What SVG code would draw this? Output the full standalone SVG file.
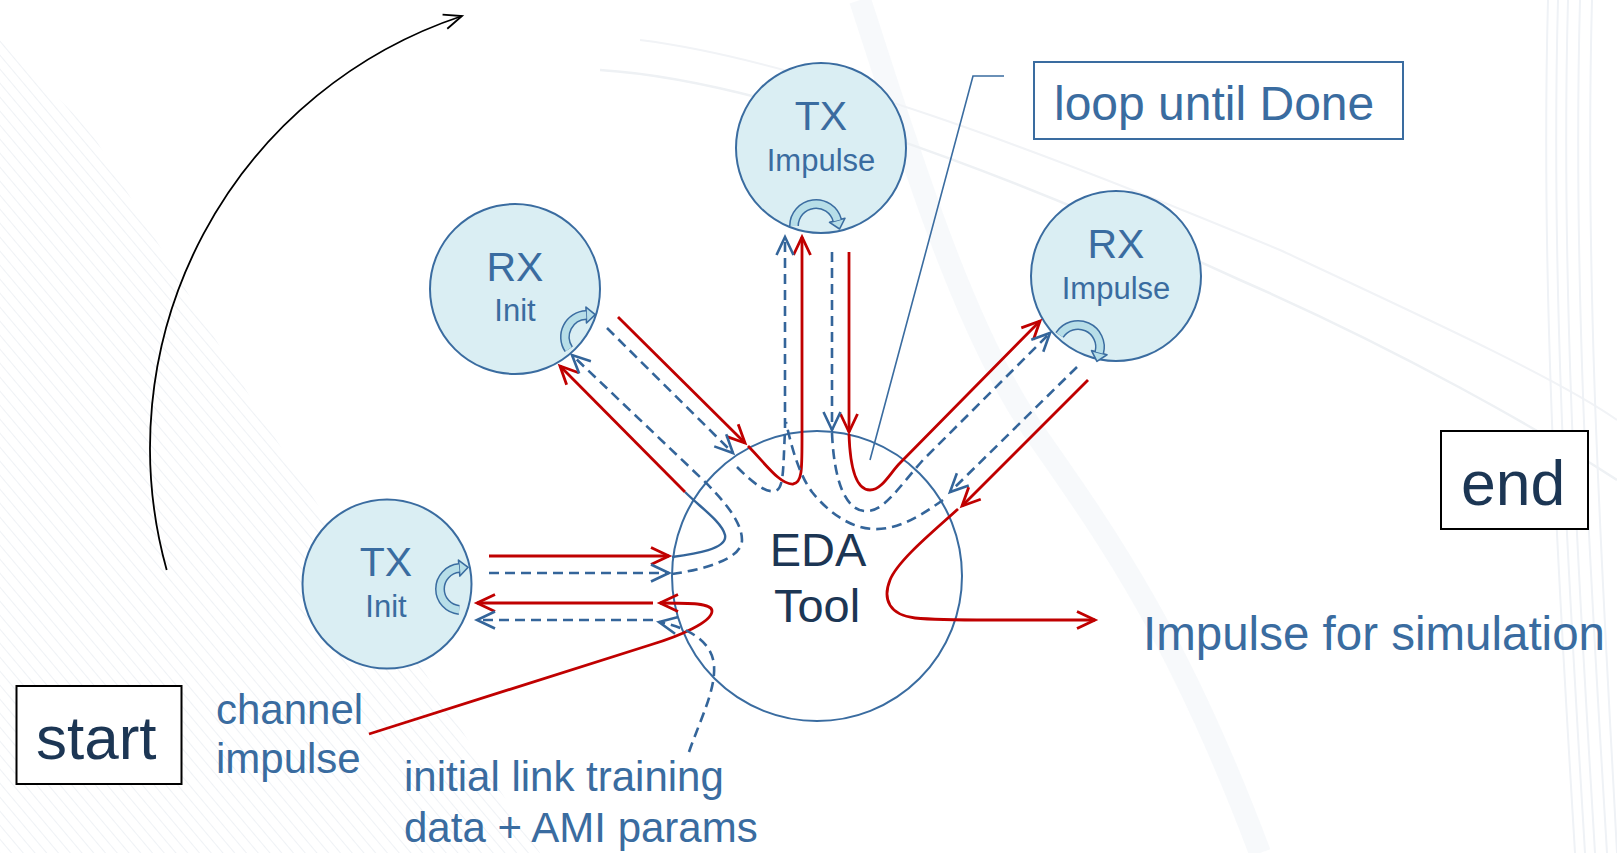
<svg xmlns="http://www.w3.org/2000/svg" width="1617" height="853" viewBox="0 0 1617 853">
<defs>
<style>
.body{fill:#daeef3;stroke:#3a6ca0;stroke-width:2}
.t{font-family:"Liberation Sans",Arial,sans-serif;fill:#3a6ca0}
.c{text-anchor:middle}
.dark{fill:#1c3654}
.red{fill:none;stroke:#c00000;stroke-width:2.8}
.dash{fill:none;stroke:#34659a;stroke-width:2.6;stroke-dasharray:10 6}
.solid{fill:none;stroke:#34659a;stroke-width:2.4}
.bando{fill:none;stroke:#3a6ca0;stroke-width:10}
.bandi{fill:none;stroke:#b7dee8;stroke-width:7}
.head{fill:#b7dee8;stroke:#3a6ca0;stroke-width:1.6;stroke-linejoin:round}
.box{fill:#ffffff;stroke-width:2}
</style>
<marker id="mr" markerUnits="userSpaceOnUse" markerWidth="40" markerHeight="40" viewBox="-20 -20 40 40" refX="0" refY="0" orient="auto" overflow="visible">
<path d="M-18,-8.5 L0,0 L-18,8.5" fill="none" stroke="#c00000" stroke-width="2.8" stroke-dasharray="none"/>
</marker>
<marker id="mb" markerUnits="userSpaceOnUse" markerWidth="40" markerHeight="40" viewBox="-20 -20 40 40" refX="0" refY="0" orient="auto" overflow="visible">
<path d="M-18,-8.5 L0,0 L-18,8.5" fill="none" stroke="#34659a" stroke-width="2.6" stroke-dasharray="none"/>
</marker>
<marker id="mk" markerUnits="userSpaceOnUse" markerWidth="40" markerHeight="40" viewBox="-20 -20 40 40" refX="0" refY="0" orient="auto" overflow="visible">
<path d="M-18,-7.5 L0,0 L-18,7.5" fill="none" stroke="#000000" stroke-width="1.8"/>
</marker>
<pattern id="hatch" patternUnits="userSpaceOnUse" width="9" height="9" patternTransform="rotate(-40)">
<line x1="0" y1="0" x2="0" y2="9" stroke="#e8ecf1" stroke-width="2"/>
</pattern>
</defs>

<g id="background">
<rect width="1617" height="853" fill="#ffffff"/>
<polygon points="0,40 90,130 270,430 540,853 0,853" fill="url(#hatch)" opacity="0.7"/>
<path d="M860,0 C900,120 960,330 1040,440 C1110,540 1180,640 1260,853" fill="none" stroke="#e6ecf3" stroke-width="22" opacity="0.3"/>
<path d="M600,70 C760,80 1000,170 1240,280 C1400,350 1540,430 1617,480" fill="none" stroke="#eef1f4" stroke-width="2.5"/>
<path d="M640,40 C800,60 1040,150 1280,250 C1430,320 1560,380 1617,420" fill="none" stroke="#f1f3f6" stroke-width="2"/>
<g stroke="#eff2f6" stroke-width="2" fill="none">
<path d="M1548,0 C1540,300 1560,600 1575,853"/>
<path d="M1558,0 C1550,300 1570,600 1585,853"/>
<path d="M1568,0 C1560,300 1580,600 1595,853"/>
<path d="M1580,0 C1572,300 1592,600 1607,853"/>
<path d="M1592,0 C1584,300 1604,600 1617,853"/>
</g>
</g>

<g id="node-tx-init">
<circle class="body" cx="387" cy="584" r="84.5"/>
<path class="bando" d="M459.17,609.92 A21,21 0 0 1 459.17,568.08"/>
<polygon class="head" points="458.47,560.11 468.14,567.30 459.87,576.05"/>
<path class="bandi" d="M459.17,609.92 A21,21 0 0 1 459.17,568.08"/>
<text class="t c" x="386" y="576" font-size="41">TX</text>
<text class="t c" x="386" y="617" font-size="31">Init</text>
</g>

<g id="node-rx-init">
<circle class="body" cx="515" cy="289" r="85"/>
<path class="bando" d="M568.76,349.30 A22,22 0 0 1 586.23,315.01"/>
<polygon class="head" points="585.95,307.02 595.22,314.70 586.51,323.00"/>
<path class="bandi" d="M568.76,349.30 A22,22 0 0 1 586.23,315.01"/>
<text class="t c" x="515" y="281" font-size="41">RX</text>
<text class="t c" x="515" y="321" font-size="31">Init</text>
</g>

<g id="node-tx-impulse">
<circle class="body" cx="821" cy="148" r="85"/>
<path class="bando" d="M794,226 A22,22 0 0 1 837.25,220.31"/>
<polygon class="head" points="844.98,218.24 839.58,229.00 829.52,222.38"/>
<path class="bandi" d="M794,226 A22,22 0 0 1 837.25,220.31"/>
<text class="t c" x="821" y="130" font-size="41">TX</text>
<text class="t c" x="821" y="171" font-size="31">Impulse</text>
</g>

<g id="node-rx-impulse">
<circle class="body" cx="1116" cy="276" r="85"/>
<path class="bando" d="M1059.55,335.02 A22,22 0 0 1 1099.25,352.69"/>
<polygon class="head" points="1106.98,354.76 1096.92,361.38 1091.52,350.62"/>
<path class="bandi" d="M1059.55,335.02 A22,22 0 0 1 1099.25,352.69"/>
<text class="t c" x="1116" y="258" font-size="41">RX</text>
<text class="t c" x="1116" y="299" font-size="31">Impulse</text>
</g>

<g id="node-eda">
<circle cx="817" cy="576" r="145" fill="none" stroke="#3a6ca0" stroke-width="2"/>
<text class="t c dark" x="818" y="566" font-size="47">EDA</text>
<text class="t c dark" x="817" y="622" font-size="47">Tool</text>
</g>

<g id="node-loop">
<rect class="box" x="1034" y="62" width="369" height="77" stroke="#3a6ca0"/>
<text class="t" x="1054" y="120" font-size="48">loop until Done</text>
</g>

<g id="node-start">
<rect class="box" x="16.5" y="686" width="165" height="98" stroke="#000000"/>
<text class="t dark" x="36" y="759" font-size="62">start</text>
</g>

<g id="node-end">
<rect class="box" x="1441" y="431" width="147" height="98" stroke="#000000"/>
<text class="t dark" x="1461" y="505" font-size="62.5">end</text>
</g>

<g id="labels">
<text class="t" x="1143" y="650" font-size="47.5">Impulse for simulation</text>
<text class="t" x="216" y="724" font-size="42">channel</text>
<text class="t" x="216" y="773" font-size="42">impulse</text>
<text class="t" x="404" y="791" font-size="42">initial link training</text>
<text class="t" x="404" y="842" font-size="42">data + AMI params</text>
</g>

<g id="connectors">
<path d="M166.7,570 A455,455 0 0 1 462,16" fill="none" stroke="#000000" stroke-width="1.8" marker-end="url(#mk)"/>
<path d="M1004,76 L973,76 L870,460" fill="none" stroke="#3a6ca0" stroke-width="1.6"/>

<path class="red" d="M489,556 L669,556" marker-end="url(#mr)"/>
<path class="solid" d="M672,557 C695,554 728,549 725,535 C722,522 700,507 685,492"/>
<path class="red" d="M685,492 L560,366" marker-end="url(#mr)"/>

<path class="dash" d="M489,573 L669,573" marker-end="url(#mb)"/>
<path class="dash" d="M672,574 C700,570 742,560 742,540 C742,522 724,500 700,477 L572,355" marker-end="url(#mb)"/>

<path class="red" d="M618,317 L745,443" marker-end="url(#mr)"/>
<path class="red" d="M748,446 C765,463 780,485 793,484 C802,483 802,470 802,440 L802,237" marker-end="url(#mr)"/>

<path class="dash" d="M607,328 L733,453" marker-end="url(#mb)"/>
<path class="dash" d="M737,467 C752,482 765,493 775,491 C784,489 783,470 785,430 L785,237" marker-end="url(#mb)"/>

<path class="red" d="M849,252 L849,432" marker-end="url(#mr)"/>
<path class="red" d="M849,434 C850,465 855,490 870,490 C882,490 890,473 900,463 L1040,321" marker-end="url(#mr)"/>

<path class="dash" d="M832,252 L832,430" marker-end="url(#mb)"/>
<path class="dash" d="M832,433 C834,480 845,510 865,511 C883,512 895,492 923,460 L1050,333" marker-end="url(#mb)"/>

<path class="dash" d="M1077,367 L950,492" marker-end="url(#mb)"/>
<path class="dash" d="M943,500 C912,522 893,530 873,529 C850,528 828,512 812,492 C800,476 792,450 786,422"/>

<path class="red" d="M1088,380 L962,506" marker-end="url(#mr)"/>
<path class="red" d="M958,509 C935,530 898,560 890,580 C882,600 890,615 915,618 C935,620 960,620 990,620 L1095,620" marker-end="url(#mr)"/>

<path class="red" d="M369,734 L650,645 C680,636 712,622 712,611 C712,603 690,603 660,603" marker-end="url(#mr)"/>
<path class="red" d="M653,603 L477,603" marker-end="url(#mr)"/>

<path class="dash" d="M689,752 C700,720 716,690 714,665 C712,642 690,628 659,622" marker-end="url(#mb)"/>
<path class="dash" d="M653,620 L477,620" marker-end="url(#mb)"/>
</g>
</svg>
